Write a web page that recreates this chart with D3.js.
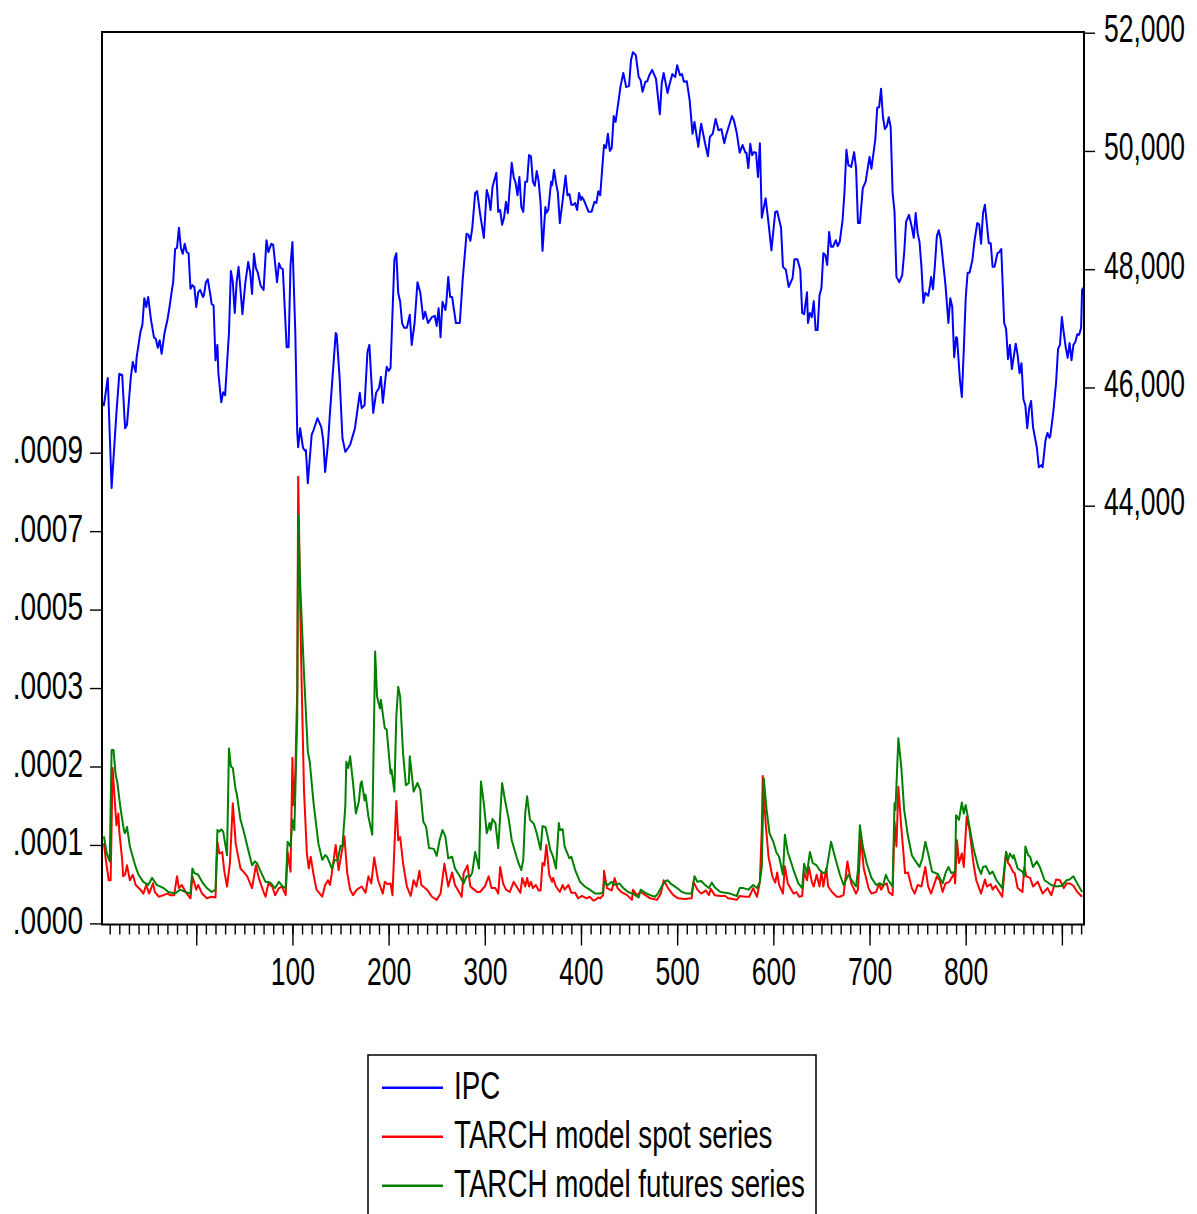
<!DOCTYPE html>
<html>
<head>
<meta charset="utf-8">
<script src="https://cdn.jsdelivr.net/npm/d3@7"></script>
<style>
  body { margin: 0; background: #fff; }
  svg { display: block; background: #fff; }
</style>
</head>
<body>
<svg id="chart" width="1197" height="1214"></svg>
<script>
// ---------------- DATA ----------------
// Observation range of the horizontal axis
const obsRange = [-98, 923];
const xMajorTicks = [0, 100, 200, 300, 400, 500, 600, 700, 800, 900];
const xTickLabels = [100, 200, 300, 400, 500, 600, 700, 800];

// Left axis (conditional variance) tick values and labels
const leftTickValues = [0, 0.0001, 0.0002, 0.0003, 0.0005, 0.0007, 0.0009];
const leftTickLabels = [".0000", ".0001", ".0002", ".0003", ".0005", ".0007", ".0009"];

// Right axis (IPC index) ticks
const rightTickValues = [44000, 46000, 48000, 50000, 52000];

const legendLabels = ["IPC", "TARCH model spot series", "TARCH model futures series"];

// IPC index: [observation, value]
const ipc = [[-98,45750],[-96,45700],[-92,46160],[-88,44300],[-83,45570],[-80,46230],[-77,46210],[-74,45310],[-72,45370],[-68,46180],[-66,46430],[-63,46260],[-62,46510],[-58,46940],[-56,47060],[-54,47510],[-52,47360],[-50,47530],[-47,47140],[-44,46850],[-42,46820],[-40,46670],[-38,46800],[-36,46570],[-33,46920],[-30,47140],[-28,47340],[-25,47680],[-24,47780],[-22,48340],[-20,48360],[-18,48700],[-16,48360],[-14,48260],[-12,48430],[-10,48290],[-8,48270],[-6,47670],[-4,47730],[-2,47700],[0,47360],[2,47610],[4,47650],[7,47530],[8,47560],[10,47780],[12,47830],[15,47530],[16,47410],[18,47390],[20,46460],[22,46720],[23,46240],[26,45750],[28,45920],[30,45870],[34,46920],[36,47970],[38,47780],[40,47260],[42,47780],[44,48040],[46,47650],[48,47240],[51,47770],[54,48120],[56,47950],[58,47580],[60,48260],[62,48020],[64,47940],[67,47720],[70,47650],[73,48490],[75,48290],[78,48430],[80,48410],[84,47780],[86,48100],[88,48020],[90,48000],[94,46680],[96,46680],[98,48070],[100,48460],[103,46920],[105,45230],[106,44990],[108,45310],[111,44980],[113,44930],[114,44940],[116,44380],[120,45200],[122,45280],[126,45480],[130,45330],[132,45110],[134,44570],[137,45060],[139,45570],[145,46920],[146,46890],[149,46180],[152,45140],[155,44910],[158,44980],[160,45030],[165,45310],[170,45910],[172,45650],[175,45700],[178,46600],[180,46720],[184,45570],[187,45910],[190,45990],[192,46180],[194,45740],[198,46350],[200,46280],[202,46330],[206,48160],[208,48270],[210,47600],[212,47450],[214,47090],[216,47010],[219,47010],[222,47230],[224,46720],[227,47090],[230,47780],[233,47600],[236,47160],[238,47280],[241,47090],[245,47190],[248,47210],[250,47040],[252,47340],[254,46850],[256,47450],[259,47310],[260,47430],[262,47870],[264,47530],[266,47530],[270,47090],[274,47090],[277,47820],[281,48600],[283,48580],[285,48480],[287,48700],[290,49290],[292,49320],[295,48950],[299,48530],[302,49340],[304,49220],[306,49000],[308,49390],[312,49630],[314,48970],[316,49000],[318,48750],[320,48870],[322,49140],[324,48950],[326,49390],[328,49800],[330,49560],[332,49460],[334,49250],[336,49560],[338,49050],[340,48970],[342,49480],[344,49480],[346,49930],[348,49910],[350,49480],[352,49410],[354,49660],[356,49480],[358,49120],[360,48310],[363,49050],[364,48950],[366,49000],[369,49480],[370,49420],[372,49680],[374,49460],[376,49290],[378,48780],[381,49170],[384,49580],[386,49250],[388,49270],[390,49090],[392,49090],[394,49120],[396,49000],[398,49290],[400,49170],[401,49220],[403,49170],[408,48970],[411,48970],[414,49140],[416,49120],[418,49320],[420,49250],[423,49900],[424,50100],[426,50050],[428,50290],[430,50000],[432,50050],[434,50590],[436,50490],[439,50840],[441,51080],[444,51320],[447,51080],[450,51100],[452,51540],[454,51670],[457,51620],[460,51250],[462,51200],[464,51000],[467,51170],[469,51180],[471,51280],[474,51370],[478,51220],[482,50620],[484,51150],[486,51320],[490,50980],[492,51120],[495,51300],[498,51250],[500,51450],[503,51280],[505,51300],[507,51170],[510,51180],[513,50860],[516,50290],[518,50490],[522,50070],[524,50350],[525,50460],[529,50130],[532,49910],[534,50240],[537,50290],[540,50540],[543,50350],[546,50370],[549,50130],[551,50270],[557,50590],[559,50520],[562,50300],[565,49970],[568,50100],[571,49970],[572,49970],[574,49710],[576,50120],[578,49930],[580,49980],[582,49970],[584,49560],[586,50130],[588,48870],[592,49200],[595,48780],[598,48320],[602,48970],[604,48980],[608,48700],[610,48040],[613,47990],[616,47700],[620,47850],[622,48170],[625,48170],[628,47990],[630,47260],[632,47240],[635,47610],[636,47090],[638,47260],[640,47190],[642,47460],[644,46970],[646,46970],[648,47560],[650,47680],[652,48270],[654,48240],[656,48070],[658,48630],[660,48380],[662,48380],[665,48490],[667,48390],[669,48460],[672,48830],[674,49310],[676,50020],[678,49760],[681,49730],[684,49980],[686,49710],[688,48780],[690,48780],[693,49370],[696,49480],[700,49900],[702,49700],[706,50190],[708,50730],[710,50740],[712,51050],[714,50570],[716,50370],[718,50420],[720,50570],[722,50400],[724,49290],[726,48970],[728,47870],[731,47780],[734,47900],[736,48270],[738,48800],[741,48920],[744,48710],[746,48530],[748,48950],[750,48610],[752,48460],[754,48040],[756,47430],[758,47600],[761,47550],[763,47730],[764,47870],[766,47660],[768,48070],[770,48560],[772,48660],[774,48510],[777,48040],[779,47730],[782,47090],[784,47510],[786,47360],[788,46510],[790,46850],[791,46840],[794,46130],[796,45840],[798,46630],[800,47510],[802,47940],[804,47940],[807,48160],[809,48460],[812,48780],[814,48760],[816,48430],[818,48950],[820,49090],[824,48440],[826,48440],[828,48040],[830,48040],[833,48270],[835,48290],[837,48340],[840,47090],[842,46990],[844,46480],[846,46720],[848,46310],[852,46740],[854,46550],[856,46240],[858,46410],[860,45800],[862,45700],[864,45310],[866,45650],[868,45770],[870,45330],[874,44980],[876,44650],[879,44690],[880,44650],[883,45110],[885,45230],[887,45150],[888,45180],[891,45570],[894,46090],[896,46650],[898,46720],[900,47190],[902,46920],[904,46680],[906,46500],[908,46750],[910,46460],[912,46720],[914,46770],[916,46900],[918,46890],[920,47010],[921,47650],[923,47700]];

// TARCH conditional variance, spot series: [observation, value]
const spot = [[-96,1.02e-4],[-94,0.81e-4],[-91,0.55e-4],[-89,0.55e-4],[-87,1.98e-4],[-85,1.62e-4],[-83,1.25e-4],[-81,1.40e-4],[-80,1.17e-4],[-77,0.81e-4],[-76,0.60e-4],[-74,0.62e-4],[-72,0.74e-4],[-69,0.55e-4],[-66,0.62e-4],[-63,0.49e-4],[-58,0.43e-4],[-55,0.38e-4],[-52,0.49e-4],[-49,0.38e-4],[-45,0.51e-4],[-43,0.40e-4],[-39,0.34e-4],[-34,0.36e-4],[-30,0.38e-4],[-27,0.36e-4],[-23,0.36e-4],[-20,0.60e-4],[-18,0.45e-4],[-15,0.49e-4],[-11,0.40e-4],[-6,0.32e-4],[-4,0.60e-4],[0,0.43e-4],[2,0.49e-4],[6,0.38e-4],[11,0.32e-4],[16,0.34e-4],[20,0.33e-4],[22,1.04e-4],[24,0.89e-4],[27,0.91e-4],[29,0.68e-4],[32,0.47e-4],[35,0.77e-4],[38,1.53e-4],[41,1.02e-4],[43,0.89e-4],[46,0.70e-4],[49,0.66e-4],[53,0.60e-4],[58,0.45e-4],[62,0.74e-4],[65,0.58e-4],[70,0.40e-4],[72,0.34e-4],[75,0.51e-4],[79,0.47e-4],[82,0.36e-4],[86,0.45e-4],[89,0.47e-4],[93,0.36e-4],[95,0.91e-4],[98,0.66e-4],[100,2.11e-4],[101,1.51e-4],[103,1.91e-4],[105,2.98e-4],[106,8.39e-4],[109,3.80e-4],[112,1.70e-4],[115,0.89e-4],[117,0.70e-4],[119,0.85e-4],[122,0.62e-4],[125,0.43e-4],[131,0.34e-4],[134,0.49e-4],[137,0.55e-4],[139,0.49e-4],[141,0.64e-4],[145,1.00e-4],[146,0.89e-4],[148,0.68e-4],[151,0.89e-4],[154,1.11e-4],[157,0.64e-4],[160,0.43e-4],[163,0.36e-4],[167,0.43e-4],[172,0.47e-4],[176,0.39e-4],[179,0.60e-4],[182,0.51e-4],[185,0.84e-4],[189,0.55e-4],[194,0.38e-4],[196,0.53e-4],[199,0.50e-4],[202,0.51e-4],[204,0.36e-4],[208,1.56e-4],[210,1.06e-4],[212,1.10e-4],[215,0.77e-4],[219,0.47e-4],[223,0.35e-4],[226,0.55e-4],[229,0.47e-4],[232,0.67e-4],[234,0.49e-4],[240,0.43e-4],[245,0.34e-4],[250,0.30e-4],[254,0.38e-4],[258,0.76e-4],[262,0.47e-4],[266,0.65e-4],[269,0.49e-4],[276,0.34e-4],[278,0.64e-4],[282,0.74e-4],[285,0.47e-4],[288,0.44e-4],[292,0.40e-4],[295,0.40e-4],[300,0.47e-4],[304,0.60e-4],[307,0.45e-4],[311,0.45e-4],[314,0.38e-4],[316,0.72e-4],[319,0.51e-4],[322,0.43e-4],[326,0.40e-4],[330,0.53e-4],[333,0.47e-4],[337,0.39e-4],[339,0.58e-4],[342,0.47e-4],[344,0.58e-4],[346,0.47e-4],[348,0.53e-4],[350,0.45e-4],[353,0.49e-4],[356,0.42e-4],[358,0.42e-4],[360,0.77e-4],[362,0.74e-4],[364,1.00e-4],[367,0.62e-4],[370,0.53e-4],[371,0.58e-4],[374,0.47e-4],[378,0.40e-4],[381,0.49e-4],[383,0.43e-4],[387,0.49e-4],[390,0.39e-4],[394,0.39e-4],[397,0.32e-4],[401,0.35e-4],[406,0.32e-4],[409,0.34e-4],[413,0.29e-4],[415,0.30e-4],[418,0.33e-4],[420,0.32e-4],[423,0.36e-4],[424,0.67e-4],[427,0.45e-4],[432,0.42e-4],[435,0.58e-4],[438,0.45e-4],[442,0.40e-4],[448,0.36e-4],[453,0.30e-4],[454,0.43e-4],[458,0.36e-4],[462,0.40e-4],[467,0.36e-4],[472,0.32e-4],[479,0.30e-4],[483,0.38e-4],[486,0.55e-4],[491,0.44e-4],[496,0.36e-4],[501,0.32e-4],[508,0.31e-4],[515,0.32e-4],[517,0.53e-4],[521,0.43e-4],[525,0.38e-4],[530,0.42e-4],[533,0.36e-4],[535,0.44e-4],[539,0.36e-4],[545,0.35e-4],[550,0.35e-4],[553,0.32e-4],[558,0.31e-4],[562,0.30e-4],[565,0.35e-4],[571,0.34e-4],[575,0.34e-4],[579,0.45e-4],[583,0.34e-4],[586,0.53e-4],[588,1.21e-4],[589,1.88e-4],[592,1.28e-4],[595,0.85e-4],[599,0.60e-4],[602,0.52e-4],[604,0.65e-4],[606,0.49e-4],[610,0.38e-4],[612,0.73e-4],[615,0.51e-4],[621,0.38e-4],[624,0.40e-4],[627,0.34e-4],[630,0.35e-4],[632,0.66e-4],[635,0.55e-4],[637,0.72e-4],[640,0.53e-4],[642,0.47e-4],[645,0.62e-4],[648,0.47e-4],[650,0.66e-4],[652,0.47e-4],[655,0.70e-4],[657,0.47e-4],[661,0.40e-4],[666,0.34e-4],[669,0.34e-4],[673,0.36e-4],[674,0.47e-4],[677,0.79e-4],[681,0.51e-4],[686,0.38e-4],[688,0.43e-4],[691,1.11e-4],[694,0.70e-4],[699,0.45e-4],[702,0.38e-4],[707,0.40e-4],[710,0.51e-4],[712,0.43e-4],[715,0.49e-4],[718,0.51e-4],[720,0.40e-4],[724,0.36e-4],[726,1.30e-4],[728,0.98e-4],[730,1.74e-4],[733,1.23e-4],[737,0.64e-4],[740,0.65e-4],[744,0.45e-4],[747,0.38e-4],[750,0.49e-4],[754,0.47e-4],[758,0.72e-4],[761,0.47e-4],[764,0.38e-4],[770,0.60e-4],[773,0.55e-4],[776,0.40e-4],[779,0.51e-4],[783,0.53e-4],[788,0.64e-4],[789,0.51e-4],[791,1.06e-4],[793,0.77e-4],[796,0.89e-4],[798,0.72e-4],[801,1.36e-4],[804,1.19e-4],[808,0.77e-4],[811,0.55e-4],[816,0.38e-4],[820,0.56e-4],[822,0.47e-4],[826,0.50e-4],[828,0.43e-4],[831,0.48e-4],[835,0.40e-4],[838,0.34e-4],[842,0.91e-4],[844,0.77e-4],[846,0.74e-4],[849,0.66e-4],[851,0.64e-4],[854,0.45e-4],[859,0.40e-4],[861,0.72e-4],[863,0.60e-4],[867,0.58e-4],[870,0.47e-4],[875,0.53e-4],[880,0.38e-4],[885,0.45e-4],[889,0.36e-4],[894,0.56e-4],[898,0.55e-4],[902,0.45e-4],[905,0.51e-4],[908,0.51e-4],[912,0.48e-4],[916,0.40e-4],[921,0.34e-4]];

// TARCH conditional variance, futures series: [observation, value]
const futures = [[-96,1.11e-4],[-93,0.89e-4],[-90,0.79e-4],[-88,2.21e-4],[-86,2.21e-4],[-84,1.91e-4],[-82,1.79e-4],[-79,1.49e-4],[-75,1.17e-4],[-74,1.15e-4],[-72,1.23e-4],[-69,0.98e-4],[-67,0.89e-4],[-63,0.72e-4],[-60,0.62e-4],[-55,0.53e-4],[-50,0.49e-4],[-46,0.58e-4],[-41,0.49e-4],[-34,0.45e-4],[-29,0.40e-4],[-22,0.38e-4],[-17,0.43e-4],[-11,0.40e-4],[-6,0.38e-4],[-4,0.70e-4],[-2,0.64e-4],[2,0.62e-4],[6,0.53e-4],[11,0.45e-4],[16,0.40e-4],[20,0.43e-4],[22,1.19e-4],[24,1.17e-4],[26,1.20e-4],[28,1.17e-4],[32,0.87e-4],[34,2.23e-4],[36,2.00e-4],[38,1.98e-4],[41,1.70e-4],[42,1.66e-4],[46,1.32e-4],[49,1.19e-4],[54,0.94e-4],[58,0.74e-4],[61,0.79e-4],[63,0.77e-4],[67,0.66e-4],[72,0.53e-4],[77,0.52e-4],[82,0.45e-4],[86,0.53e-4],[90,0.47e-4],[93,0.45e-4],[95,1.04e-4],[98,0.98e-4],[100,1.32e-4],[102,1.19e-4],[105,2.64e-4],[106,7.41e-4],[108,5.67e-4],[112,3.38e-4],[116,2.19e-4],[118,2.06e-4],[122,1.53e-4],[127,1.02e-4],[131,0.81e-4],[134,0.87e-4],[136,0.85e-4],[141,0.70e-4],[144,0.81e-4],[147,0.80e-4],[150,0.99e-4],[152,0.98e-4],[155,1.50e-4],[156,2.06e-4],[158,1.98e-4],[160,2.13e-4],[163,1.79e-4],[166,1.40e-4],[169,1.55e-4],[171,1.79e-4],[172,1.81e-4],[175,1.57e-4],[176,1.64e-4],[179,1.36e-4],[183,1.13e-4],[186,3.93e-4],[188,2.89e-4],[191,2.74e-4],[192,2.85e-4],[196,2.49e-4],[198,2.47e-4],[202,1.91e-4],[203,1.96e-4],[206,1.68e-4],[208,2.64e-4],[210,3.03e-4],[212,2.89e-4],[215,2.17e-4],[218,1.76e-4],[221,1.79e-4],[222,2.13e-4],[226,1.68e-4],[230,1.79e-4],[233,1.70e-4],[236,1.30e-4],[239,1.23e-4],[242,0.96e-4],[247,0.95e-4],[250,0.86e-4],[253,1.06e-4],[256,1.19e-4],[259,1.11e-4],[262,0.83e-4],[266,0.85e-4],[269,0.70e-4],[274,0.60e-4],[278,0.51e-4],[281,0.60e-4],[285,0.60e-4],[287,0.65e-4],[290,0.91e-4],[294,0.70e-4],[296,1.81e-4],[299,1.53e-4],[302,1.15e-4],[305,1.28e-4],[306,1.19e-4],[308,1.33e-4],[311,1.28e-4],[314,0.96e-4],[318,1.79e-4],[321,1.57e-4],[325,1.32e-4],[328,1.06e-4],[332,0.89e-4],[335,0.77e-4],[338,0.68e-4],[340,0.81e-4],[342,1.40e-4],[344,1.62e-4],[347,1.32e-4],[351,1.27e-4],[354,1.15e-4],[358,0.94e-4],[360,1.24e-4],[363,1.23e-4],[365,1.13e-4],[368,0.94e-4],[371,0.85e-4],[374,0.70e-4],[377,1.28e-4],[378,1.19e-4],[381,1.20e-4],[383,0.98e-4],[388,0.83e-4],[390,0.85e-4],[394,0.68e-4],[399,0.53e-4],[404,0.47e-4],[409,0.43e-4],[415,0.38e-4],[420,0.38e-4],[423,0.40e-4],[424,0.53e-4],[428,0.49e-4],[432,0.53e-4],[434,0.49e-4],[437,0.50e-4],[440,0.51e-4],[444,0.45e-4],[449,0.40e-4],[454,0.38e-4],[460,0.33e-4],[462,0.43e-4],[467,0.39e-4],[472,0.36e-4],[477,0.34e-4],[480,0.38e-4],[484,0.47e-4],[487,0.53e-4],[490,0.55e-4],[494,0.50e-4],[500,0.45e-4],[505,0.40e-4],[510,0.38e-4],[515,0.38e-4],[518,0.60e-4],[521,0.53e-4],[525,0.54e-4],[529,0.49e-4],[533,0.45e-4],[536,0.52e-4],[539,0.46e-4],[545,0.40e-4],[550,0.39e-4],[555,0.38e-4],[562,0.35e-4],[565,0.45e-4],[569,0.45e-4],[574,0.43e-4],[579,0.49e-4],[583,0.45e-4],[586,0.53e-4],[588,0.72e-4],[590,1.85e-4],[593,1.45e-4],[596,1.15e-4],[600,1.04e-4],[603,0.91e-4],[606,0.85e-4],[610,0.62e-4],[612,1.13e-4],[615,0.91e-4],[621,0.68e-4],[626,0.51e-4],[630,0.45e-4],[632,0.76e-4],[635,0.64e-4],[638,0.91e-4],[641,0.77e-4],[645,0.74e-4],[648,0.68e-4],[652,0.64e-4],[655,0.66e-4],[660,1.04e-4],[664,0.85e-4],[669,0.63e-4],[673,0.49e-4],[678,0.62e-4],[681,0.56e-4],[686,0.47e-4],[688,0.68e-4],[690,1.25e-4],[693,0.98e-4],[697,0.77e-4],[702,0.58e-4],[707,0.49e-4],[711,0.51e-4],[714,0.48e-4],[717,0.62e-4],[719,0.56e-4],[724,0.47e-4],[726,1.53e-4],[727,1.45e-4],[730,2.36e-4],[733,2.00e-4],[736,1.45e-4],[740,1.11e-4],[744,0.87e-4],[747,0.81e-4],[752,0.72e-4],[755,0.83e-4],[758,1.04e-4],[761,0.89e-4],[765,0.66e-4],[771,0.63e-4],[776,0.51e-4],[779,0.64e-4],[782,0.72e-4],[785,0.64e-4],[789,0.66e-4],[790,1.38e-4],[793,1.32e-4],[796,1.54e-4],[798,1.40e-4],[800,1.51e-4],[804,1.23e-4],[808,0.96e-4],[813,0.72e-4],[816,0.63e-4],[818,0.72e-4],[821,0.73e-4],[825,0.63e-4],[828,0.66e-4],[832,0.55e-4],[838,0.45e-4],[842,0.91e-4],[844,0.81e-4],[846,0.89e-4],[849,0.83e-4],[850,0.87e-4],[854,0.70e-4],[859,0.66e-4],[861,0.60e-4],[862,0.98e-4],[865,0.87e-4],[867,0.85e-4],[870,0.72e-4],[874,0.79e-4],[877,0.72e-4],[882,0.55e-4],[889,0.49e-4],[894,0.47e-4],[900,0.48e-4],[905,0.55e-4],[908,0.56e-4],[912,0.60e-4],[916,0.51e-4],[921,0.40e-4]];

// ---------------- LAYOUT / STYLE ----------------
const L = 102, R = 1084, T = 32, B = 924.5;
const FONT = "'Liberation Sans', Arial, Helvetica, sans-serif";
const SQUEEZE = 0.68;
const colors = ["#0000ff", "#ff0000", "#008000"];

const svg = d3.select("#chart");

const x = d3.scaleLinear().domain(obsRange).range([L, R]);
const yR = d3.scaleLinear().domain([44000, 52000]).range([505.7, 32.7]);
const volStep = 78.45, volZero = 923.4;
const yL = d3.scaleLinear().domain(leftTickValues)
  .range(leftTickValues.map((d, i) => volZero - i * volStep));

// ---------------- SERIES ----------------
const lineIPC = d3.line().x(d => x(d[0])).y(d => yR(d[1]));
const lineVol = d3.line().x(d => x(d[0])).y(d => yL(d[1]));

svg.append("path").datum(ipc).attr("d", lineIPC)
  .attr("fill", "none").attr("stroke", colors[0]).attr("stroke-width", 2).attr("stroke-linejoin", "round");
svg.append("path").datum(spot).attr("d", lineVol)
  .attr("fill", "none").attr("stroke", colors[1]).attr("stroke-width", 2).attr("stroke-linejoin", "round");
svg.append("path").datum(futures).attr("d", lineVol)
  .attr("fill", "none").attr("stroke", colors[2]).attr("stroke-width", 2).attr("stroke-linejoin", "round");

// ---------------- FRAME ----------------
svg.append("rect").attr("x", L).attr("y", T).attr("width", R - L).attr("height", B - T)
  .attr("fill", "none").attr("stroke", "#000").attr("stroke-width", 2);

function styleAxis(g) {
  g.select(".domain").remove();
  g.attr("font-family", FONT).attr("font-size", 39).attr("color", "#000");
  g.selectAll(".tick line").attr("stroke-width", 1.4);
}

// Bottom axis: minor ticks
const minorTicks = d3.range(-90, 921, 10);
svg.append("g").attr("transform", `translate(0,${B})`)
  .call(d3.axisBottom(x).tickValues(minorTicks).tickSize(10).tickFormat(""))
  .call(styleAxis);

// Bottom axis: major ticks + labels
svg.append("g").attr("transform", `translate(0,${B})`)
  .call(d3.axisBottom(x).tickValues(xMajorTicks).tickSize(21)
    .tickFormat(d => xTickLabels.includes(d) ? String(d) : ""))
  .call(styleAxis)
  .call(g => g.selectAll(".tick text")
    .attr("y", 0).attr("dy", 0).attr("text-anchor", "middle")
    .attr("transform", `translate(0,60.5) scale(${SQUEEZE},1)`));

// Left axis
svg.append("g").attr("transform", `translate(${L},0)`)
  .call(d3.axisLeft(yL).tickValues(leftTickValues).tickSize(12)
    .tickFormat((d, i) => leftTickLabels[i]))
  .call(styleAxis)
  .call(g => g.selectAll(".tick text")
    .attr("x", 0).attr("dy", 0).attr("text-anchor", "end")
    .attr("transform", `translate(-19,10) scale(0.72,1)`));

// Right axis
svg.append("g").attr("transform", `translate(${R},0)`)
  .call(d3.axisRight(yR).tickValues(rightTickValues).tickSize(11)
    .tickFormat(d3.format(",")))
  .call(styleAxis)
  .call(g => g.selectAll(".tick text")
    .attr("x", 0).attr("dy", 0).attr("text-anchor", "start")
    .attr("transform", `translate(20,9) scale(${SQUEEZE},1)`));

// ---------------- LEGEND ----------------
const legend = svg.append("g");
legend.append("rect").attr("x", 368).attr("y", 1055).attr("width", 448).attr("height", 220)
  .attr("fill", "#fff").attr("stroke", "#000").attr("stroke-width", 1.5);
const rows = legend.selectAll("g.item").data(legendLabels).join("g")
  .attr("class", "item")
  .attr("transform", (d, i) => `translate(0,${1087.7 + i * 49})`);
rows.append("line").attr("x1", 382).attr("x2", 443).attr("y1", 0).attr("y2", 0)
  .attr("stroke", (d, i) => colors[i]).attr("stroke-width", 2.5);
rows.append("text").text(d => d)
  .attr("font-family", FONT).attr("font-size", 38).attr("fill", "#000")
  .attr("transform", `translate(454,11.5) scale(0.73,1)`);
</script>
</body>
</html>
